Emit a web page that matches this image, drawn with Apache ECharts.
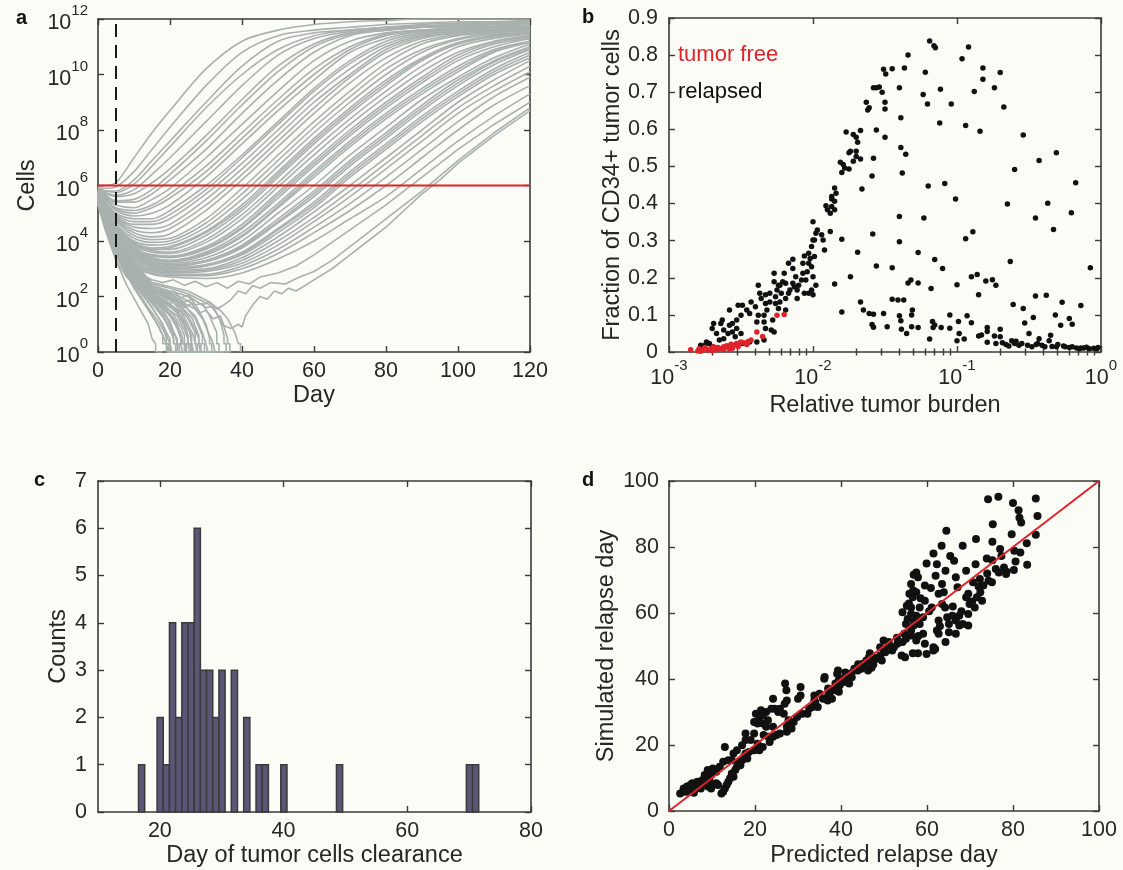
<!DOCTYPE html>
<html>
<head>
<meta charset="utf-8">
<script src="https://cdn.jsdelivr.net/npm/echarts@6/dist/echarts.min.js"></script>
<style>
  html, body { margin: 0; padding: 0; background: #fcfcf6; }
  #chart { width: 1123px; height: 870px; }
</style>
</head>
<body>
<div id="chart"></div>
<script>
// ---------- panel a: simulated trajectories (day, log10 cells) ----------
const trajDays = [0, 2, 5, 10, 15, 20, 30, 40, 50, 60, 70, 80, 90, 100, 110, 120];
const relapseCurves = [
  [5.95, 6.0, 6.1, 7.0, 7.9, 8.7, 10.2, 11.2, 11.6, 11.8, 11.9, 11.95, 12, 12, 12, 12],
  [5.9, 5.9, 5.95, 6.5, 7.3, 8.1, 9.6, 10.8, 11.4, 11.6, 11.7, 11.8, 11.85, 11.9, 11.9, 11.95],
  [5.9, 5.8, 5.8, 6.2, 6.9, 7.6, 9.0, 10.3, 11.2, 11.5, 11.6, 11.7, 11.8, 11.85, 11.9, 11.9],
  [5.9, 5.8, 5.75, 6.05, 6.7, 7.4, 8.8, 10.0, 10.9, 11.4, 11.6, 11.7, 11.75, 11.8, 11.85, 11.9],
  [5.9, 5.75, 5.65, 5.85, 6.4, 7.0, 8.3, 9.6, 10.7, 11.3, 11.55, 11.65, 11.75, 11.8, 11.85, 11.9],
  [5.85, 5.7, 5.6, 5.7, 6.1, 6.6, 7.8, 9.1, 10.3, 11.1, 11.5, 11.6, 11.7, 11.75, 11.8, 11.85],
  [5.85, 5.65, 5.45, 5.5, 5.85, 6.4, 7.6, 8.9, 10.1, 11.0, 11.45, 11.6, 11.7, 11.75, 11.8, 11.8],
  [5.85, 5.6, 5.4, 5.4, 5.7, 6.2, 7.3, 8.6, 9.8, 10.8, 11.4, 11.6, 11.7, 11.75, 11.8, 11.8],
  [5.8, 5.55, 5.3, 5.2, 5.5, 5.9, 7.0, 8.2, 9.4, 10.5, 11.2, 11.5, 11.6, 11.7, 11.75, 11.8],
  [5.8, 5.5, 5.2, 5.1, 5.3, 5.7, 6.7, 7.9, 9.1, 10.2, 11.0, 11.45, 11.6, 11.65, 11.7, 11.75],
  [5.8, 5.5, 5.15, 5.0, 5.2, 5.55, 6.5, 7.7, 8.9, 10.0, 10.9, 11.4, 11.55, 11.65, 11.7, 11.7],
  [5.8, 5.5, 5.1, 4.9, 5.0, 5.3, 6.3, 7.5, 8.7, 9.8, 10.8, 11.3, 11.55, 11.6, 11.7, 11.7],
  [5.8, 5.4, 5.0, 4.8, 4.8, 5.1, 6.0, 7.1, 8.3, 9.5, 10.5, 11.2, 11.5, 11.6, 11.65, 11.7],
  [5.75, 5.4, 4.95, 4.7, 4.7, 4.95, 5.85, 7.0, 8.2, 9.4, 10.4, 11.1, 11.45, 11.55, 11.6, 11.65],
  [5.75, 5.4, 4.9, 4.6, 4.6, 4.8, 5.7, 6.8, 8.0, 9.2, 10.2, 11.0, 11.4, 11.55, 11.6, 11.65],
  [5.75, 5.35, 4.85, 4.5, 4.45, 4.6, 5.5, 6.6, 7.8, 9.0, 10.0, 10.9, 11.35, 11.5, 11.6, 11.65],
  [5.7, 5.3, 4.8, 4.4, 4.3, 4.45, 5.3, 6.4, 7.6, 8.8, 9.9, 10.8, 11.3, 11.5, 11.55, 11.6],
  [5.7, 5.3, 4.75, 4.3, 4.15, 4.25, 5.1, 6.2, 7.4, 8.6, 9.7, 10.6, 11.2, 11.45, 11.55, 11.6],
  [5.7, 5.25, 4.7, 4.2, 4.05, 4.1, 4.8, 5.9, 7.1, 8.3, 9.4, 10.4, 11.1, 11.4, 11.5, 11.6],
  [5.7, 5.2, 4.6, 4.1, 3.95, 4.0, 4.65, 5.7, 6.9, 8.1, 9.2, 10.2, 10.9, 11.3, 11.5, 11.55],
  [5.65, 5.2, 4.55, 4.0, 3.85, 3.9, 4.5, 5.5, 6.7, 7.9, 9.0, 10.0, 10.8, 11.25, 11.45, 11.5],
  [5.65, 5.15, 4.5, 3.95, 3.75, 3.8, 4.35, 5.3, 6.5, 7.7, 8.8, 9.8, 10.6, 11.15, 11.4, 11.5],
  [5.65, 5.15, 4.5, 3.9, 3.7, 3.75, 4.3, 5.2, 6.4, 7.6, 8.7, 9.7, 10.55, 11.1, 11.4, 11.5],
  [5.65, 5.1, 4.45, 3.9, 3.7, 3.7, 4.2, 5.1, 6.3, 7.5, 8.6, 9.6, 10.5, 11.1, 11.35, 11.5],
  [5.6, 5.1, 4.4, 3.85, 3.65, 3.6, 4.05, 4.95, 6.1, 7.3, 8.4, 9.4, 10.3, 11.0, 11.3, 11.45],
  [5.6, 5.05, 4.35, 3.8, 3.6, 3.55, 3.95, 4.8, 5.95, 7.1, 8.2, 9.2, 10.1, 10.8, 11.2, 11.4],
  [5.6, 5.0, 4.3, 3.75, 3.5, 3.45, 3.8, 4.6, 5.75, 6.9, 8.0, 9.0, 9.9, 10.7, 11.15, 11.35],
  [5.6, 5.0, 4.3, 3.7, 3.5, 3.45, 3.75, 4.5, 5.65, 6.8, 7.9, 8.9, 9.8, 10.6, 11.1, 11.3],
  [5.55, 5.0, 4.25, 3.7, 3.45, 3.4, 3.7, 4.45, 5.55, 6.7, 7.8, 8.8, 9.7, 10.5, 11.0, 11.3],
  [5.55, 4.95, 4.2, 3.65, 3.4, 3.3, 3.6, 4.3, 5.35, 6.5, 7.6, 8.6, 9.5, 10.3, 10.9, 11.2],
  [5.55, 4.95, 4.2, 3.6, 3.35, 3.3, 3.55, 4.2, 5.25, 6.4, 7.5, 8.5, 9.4, 10.2, 10.85, 11.2],
  [5.55, 4.9, 4.15, 3.6, 3.35, 3.25, 3.5, 4.15, 5.2, 6.3, 7.4, 8.4, 9.3, 10.1, 10.8, 11.15],
  [5.5, 4.9, 4.1, 3.55, 3.3, 3.2, 3.4, 4.0, 5.0, 6.0, 7.1, 8.1, 9.1, 9.9, 10.6, 11.1],
  [5.5, 4.85, 4.05, 3.5, 3.25, 3.15, 3.3, 3.85, 4.8, 5.8, 6.9, 7.9, 8.9, 9.8, 10.5, 11.0],
  [5.5, 4.85, 4.0, 3.5, 3.2, 3.1, 3.3, 3.8, 4.7, 5.7, 6.8, 7.8, 8.8, 9.7, 10.45, 10.95],
  [5.5, 4.8, 4.0, 3.45, 3.2, 3.1, 3.25, 3.75, 4.65, 5.6, 6.7, 7.7, 8.7, 9.6, 10.35, 10.9],
  [5.45, 4.8, 3.95, 3.4, 3.15, 3.05, 3.15, 3.6, 4.45, 5.4, 6.5, 7.5, 8.5, 9.4, 10.2, 10.8],
  [5.45, 4.8, 3.9, 3.4, 3.1, 3.0, 3.1, 3.55, 4.4, 5.3, 6.4, 7.4, 8.4, 9.3, 10.1, 10.7],
  [5.45, 4.75, 3.9, 3.35, 3.1, 3.0, 3.1, 3.5, 4.3, 5.2, 6.3, 7.3, 8.3, 9.2, 10.0, 10.6],
  [5.4, 4.7, 3.85, 3.3, 3.05, 2.95, 3.0, 3.4, 4.15, 5.05, 6.0, 7.0, 8.0, 9.0, 9.8, 10.5],
  [5.4, 4.7, 3.8, 3.25, 3.0, 2.9, 2.95, 3.3, 4.0, 4.85, 5.8, 6.8, 7.8, 8.8, 9.6, 10.3],
  [5.4, 4.65, 3.75, 3.2, 2.95, 2.85, 2.9, 3.2, 3.85, 4.7, 5.6, 6.6, 7.6, 8.6, 9.4, 10.1],
  [5.35, 4.6, 3.7, 3.15, 2.9, 2.8, 2.8, 3.1, 3.7, 4.5, 5.35, 6.3, 7.3, 8.3, 9.2, 9.9],
  [5.35, 4.6, 3.65, 3.1, 2.85, 2.75, 2.75, 3.0, 3.55, 4.3, 5.1, 6.0, 7.0, 8.0, 8.9, 9.6],
  [5.3, 4.55, 3.6, 3.05, 2.8, 2.7, 2.65, 2.85, 3.35, 4.0, 4.8, 5.6, 6.6, 7.6, 8.5, 9.3]
];
// late, noisy relapses: [day, log10 cells]
const noisyCurves = [
  [[0,5.3],[2,4.4],[5,3.3],[8,2.7],[11,2.3],[14,2.0],[17,1.9],[20,1.75],[22,1.9],[24,1.6],[26,1.75],[28,1.4],[30,1.5],[32,1.2],[34,1.3],[35,0.95],[37,0.85],[39,1.0],[40,0.9],[41,1.3],[43,1.7],[45,2.0],[47,1.9],[49,2.2],[51,2.1],[53,2.3],[55,2.2],[57,2.35],[60,2.6],[65,3.0],[70,3.5],[75,4.0],[80,4.5],[85,5.1],[90,5.7],[95,6.2],[100,6.8],[110,7.8],[120,8.7]],
  [[0,5.35],[2,4.5],[5,3.5],[10,2.7],[13,2.4],[16,2.2],[19,2.1],[21,2.2],[23,1.95],[25,2.05],[27,1.85],[29,1.7],[31,1.8],[33,1.55],[35,1.7],[37,1.9],[39,2.2],[41,2.1],[43,2.4],[45,2.3],[48,2.5],[52,2.45],[56,2.7],[60,2.9],[65,3.3],[70,3.8],[80,4.8],[90,5.8],[100,6.9],[110,7.9],[120,8.8]],
  [[0,5.4],[2,4.6],[5,3.6],[10,2.9],[15,2.6],[18,2.5],[21,2.6],[24,2.4],[27,2.55],[30,2.35],[33,2.5],[36,2.3],[39,2.55],[42,2.45],[45,2.7],[50,2.85],[55,3.1],[60,3.5],[70,4.4],[80,5.3],[90,6.3],[100,7.3],[110,8.2],[120,9.0]]
];
// curves that go extinct (reach 10^0 and vanish)
const clearedCurves = [
  [[0,5.45],[2,4.5],[5,3.3],[8,2.4],[11,1.7],[14,1.0],[15,0.48],[16,0.3],[16,0],[18,0]],
  [[0,5.5],[2,4.6],[5,3.5],[10,2.3],[14,1.5],[17,0.9],[18,0.6],[18,0.3],[19,0.3],[19,0],[21,0]],
  [[0,5.55],[2,4.65],[5,3.6],[10,2.5],[14,1.8],[17,1.2],[18,0.95],[19,0.48],[19,0.3],[19.5,0.3],[19.5,0],[22,0]],
  [[0,5.5],[2,4.6],[5,3.55],[10,2.45],[15,1.6],[18,1.0],[19,0.7],[20,0.48],[20,0],[23,0]],
  [[0,5.6],[2,4.7],[5,3.7],[10,2.6],[15,1.85],[18,1.3],[20,0.78],[21,0.48],[21,0.3],[21.6,0.3],[21.6,0],[24,0]],
  [[0,5.55],[2,4.65],[5,3.6],[10,2.55],[15,1.75],[18,1.25],[20,0.9],[21,0.6],[21,0.3],[22,0.3],[22,0],[25,0]],
  [[0,5.6],[2,4.75],[5,3.7],[10,2.7],[15,1.9],[18,1.5],[20,1.1],[21,0.7],[22,0.48],[22,0.3],[22.6,0.3],[22.6,0],[26,0]],
  [[0,5.6],[2,4.7],[5,3.75],[10,2.75],[15,2.0],[18,1.6],[20,1.3],[22,0.85],[23,0.48],[23,0.3],[23.5,0.3],[23.5,0],[27,0]],
  [[0,5.65],[2,4.8],[5,3.8],[10,2.8],[15,2.0],[18,1.65],[20,1.4],[22,1.0],[23,0.6],[23,0.3],[24,0.3],[24,0],[27,0]],
  [[0,5.6],[2,4.75],[5,3.8],[10,2.85],[15,2.05],[18,1.75],[21,1.35],[23,0.9],[24,0.6],[24,0.3],[24.6,0.3],[24.6,0],[28,0]],
  [[0,5.65],[2,4.8],[5,3.85],[10,2.9],[15,2.1],[19,1.75],[22,1.4],[24,0.95],[25,0.6],[25,0.3],[25.6,0.3],[25.6,0],[29,0]],
  [[0,5.6],[2,4.8],[5,3.8],[10,2.8],[15,2.1],[19,1.8],[21,1.6],[23,1.3],[24.5,0.8],[25,0.48],[25,0.3],[26,0.3],[26,0],[29,0]],
  [[0,5.65],[2,4.85],[5,3.9],[10,2.95],[15,2.15],[19,1.85],[22,1.5],[24,1.1],[26,0.6],[26,0.3],[26.5,0.3],[26.5,0],[30,0]],
  [[0,5.7],[2,4.9],[5,3.95],[10,3.0],[15,2.2],[20,1.9],[23,1.5],[25,1.2],[27,0.7],[27,0.3],[27.6,0.3],[27.6,0],[31,0]],
  [[0,5.7],[2,4.9],[5,3.95],[10,3.0],[15,2.2],[20,1.95],[23,1.65],[26,1.25],[28,0.6],[28,0.3],[28.5,0.3],[28.5,0],[32,0]],
  [[0,5.7],[2,4.95],[5,4.0],[10,3.05],[15,2.25],[20,2.0],[24,1.7],[27,1.2],[29,0.6],[29,0.3],[29.6,0.3],[29.6,0],[33,0]],
  [[0,5.75],[2,4.95],[5,4.0],[10,3.1],[15,2.3],[20,2.1],[24,1.8],[26,1.9],[28,1.5],[30,1.0],[31,0.48],[31,0.3],[31.6,0.3],[31.6,0],[34,0]],
  [[0,5.75],[2,5.0],[5,4.05],[10,3.1],[15,2.35],[20,2.15],[24,1.9],[27,1.7],[29,1.75],[31,1.3],[33,0.7],[33,0.3],[33.6,0.3],[33.6,0],[36,0]],
  [[0,5.75],[2,5.0],[5,4.1],[10,3.15],[15,2.4],[20,2.2],[24,2.05],[27,1.85],[30,1.6],[32,1.65],[34,1.1],[35,0.6],[35,0.3],[35.6,0.3],[35.6,0],[37,0]],
  [[0,5.8],[2,5.05],[5,4.1],[10,3.2],[15,2.45],[20,2.3],[25,2.1],[28,1.9],[31,1.7],[33,1.4],[35,0.9],[36,0.48],[36,0.3],[36.6,0.3],[36.6,0]],
  [[0,5.8],[2,5.05],[5,4.15],[10,3.2],[15,2.5],[20,2.35],[25,2.2],[28,2.0],[31,1.8],[34,1.5],[36,1.2],[38,0.7],[39,0.3],[39.6,0.3],[39.6,0]],
  [[0,5.5],[2,4.55],[5,3.45],[10,2.35],[14,1.6],[17,1.05],[19,0.6],[20,0.3],[20.5,0.3],[20.5,0],[22,0]],
  [[0,5.6],[2,4.7],[5,3.65],[10,2.6],[15,1.8],[18,1.4],[20,1.0],[21.5,0.6],[22,0.3],[22.6,0.3],[22.6,0],[25,0]],
  [[0,5.55],[2,4.7],[5,3.7],[10,2.7],[15,1.95],[18,1.55],[21,1.2],[23,0.7],[23.5,0.48],[23.5,0.3],[24.3,0.3],[24.3,0],[26,0]],
  [[0,5.6],[2,4.75],[5,3.75],[10,2.75],[15,2.0],[19,1.6],[22,1.3],[24,0.8],[25,0.48],[25,0.3],[25.5,0.3],[25.5,0],[28,0]],
  [[0,5.65],[2,4.8],[5,3.8],[10,2.85],[15,2.1],[19,1.7],[22,1.45],[24,1.1],[25.5,0.7],[26,0.3],[26.4,0.3],[26.4,0],[29,0]],
  [[0,5.6],[2,4.8],[5,3.85],[10,2.9],[15,2.1],[19,1.8],[23,1.45],[25,1.0],[26.5,0.6],[27,0.3],[27.5,0.3],[27.5,0],[30,0]],
  [[0,5.7],[2,4.85],[5,3.9],[10,2.95],[15,2.2],[20,1.85],[23,1.6],[25,1.3],[27,0.8],[28,0.48],[28,0.3],[28.6,0.3],[28.6,0],[31,0]],
  [[0,5.7],[2,4.9],[5,3.95],[10,3.0],[15,2.25],[20,1.95],[24,1.65],[27,1.3],[29,0.7],[30,0.3],[30.5,0.3],[30.5,0],[33,0]],
  [[0,5.75],[2,4.95],[5,4.0],[10,3.05],[15,2.3],[20,2.05],[24,1.75],[27,1.55],[29,1.2],[31,0.6],[32,0.3],[32.5,0.3],[32.5,0],[35,0]],
  [[0,5.55],[2,4.6],[5,3.5],[10,2.4],[14,1.55],[16,1.1],[18,0.6],[19,0.3],[19.6,0.3],[19.6,0],[22,0]]
];
const treatmentDay = 5;
const detectionLogCells = 6;
const dayRange = [0, 120];
const logCellRange = [0, 12];

// ---------- panel b: relative tumor burden (log10) vs CD34+ fraction ----------
const burdenRelapsed = [
  [-1.19,0.838],[-1.16,0.825],[-1.15,0.82],[-0.92,0.822],[-0.965,0.79],[-1.34,0.80],[-1.365,0.765],[-1.51,0.762],[-1.45,0.763],[-1.495,0.749],
  [-1.22,0.754],[-0.82,0.765],[-0.82,0.735],[-0.70,0.753],[-0.88,0.702],[-0.74,0.712],[-1.58,0.712],[-1.56,0.712],[-1.54,0.714],[-1.52,0.70],
  [-1.40,0.712],[-1.235,0.694],[-1.115,0.708],[-1.63,0.673],[-1.61,0.658],[-1.62,0.652],[-1.50,0.673],[-1.50,0.655],[-1.205,0.668],[-1.04,0.668],
  [-1.39,0.631],[-1.12,0.617],[-0.675,0.66],[-0.94,0.61],[-0.84,0.595],[-0.54,0.585],[-1.56,0.598],[-1.50,0.579],[-1.77,0.593],[-1.72,0.586],
  [-1.67,0.597],[-1.70,0.579],[-1.69,0.565],[-1.74,0.541],[-1.75,0.537],[-1.70,0.541],[-1.70,0.527],[-1.67,0.52],[-1.72,0.514],[-1.81,0.511],
  [-1.79,0.505],[-1.78,0.496],[-1.75,0.493],[-1.80,0.484],[-1.58,0.522],[-1.59,0.474],[-1.39,0.551],[-1.356,0.533],[-1.38,0.482],[-1.01,0.412],
  [-1.20,0.447],[-0.31,0.537],[-0.43,0.516],[-0.60,0.492],[-0.176,0.456],[-1.085,0.454],[-1.85,0.442],[-1.87,0.419],[-1.84,0.428],[-1.87,0.412],
  [-1.85,0.406],[-1.87,0.392],[-1.91,0.394],[-1.90,0.383],[-1.85,0.383],[-1.88,0.374],[-1.66,0.439],[-1.40,0.365],[-1.23,0.361],[-0.65,0.399],
  [-0.37,0.401],[-0.455,0.361],[-0.206,0.375],[-0.33,0.33],[-0.89,0.324],[-0.94,0.305],[-1.585,0.318],[-1.40,0.297],[-1.80,0.304],[-2.00,0.351],
  [-1.97,0.329],[-1.98,0.32],[-2.00,0.302],[-2.01,0.284],[-1.99,0.302],[-1.94,0.316],[-1.93,0.302],[-1.92,0.275],[-1.88,0.325],[-2.03,0.266],
  [-2.02,0.252],[-1.99,0.257],[-2.06,0.259],[-2.07,0.239],[-2.03,0.239],[-2.01,0.23],[-2.04,0.216],[-2.00,0.203],[-2.05,0.194],[-2.08,0.194],
  [-2.07,0.212],[-2.10,0.18],[-2.13,0.176],[-2.12,0.203],[-2.14,0.225],[-2.14,0.25],[-2.17,0.239],[-2.20,0.212],[-2.19,0.185],[-2.21,0.189],
  [-2.23,0.18],[-2.25,0.167],[-2.22,0.158],[-2.16,0.167],[-2.14,0.185],[-2.11,0.167],[-2.06,0.158],[-2.11,0.144],[-2.03,0.158],[-2.01,0.167],
  [-1.98,0.18],[-2.00,0.154],[-2.27,0.212],[-2.24,0.18],[-2.26,0.149],[-2.30,0.158],[-2.33,0.154],[-2.37,0.158],[-2.36,0.144],[-2.33,0.131],
  [-2.30,0.135],[-2.26,0.131],[-2.23,0.135],[-2.19,0.144],[-2.17,0.158],[-2.27,0.189],[-2.38,0.18],[-2.19,0.113],[-2.24,0.117],[-2.32,0.113],
  [-2.34,0.099],[-2.28,0.086],[-2.40,0.122],[-2.43,0.135],[-2.44,0.104],[-2.39,0.081],[-2.38,0.099],[-2.34,0.081],[-2.29,0.059],[-2.27,0.054],
  [-2.33,0.063],[-2.49,0.126],[-2.46,0.113],[-2.50,0.099],[-2.52,0.126],[-2.53,0.086],[-2.56,0.077],[-2.58,0.072],[-2.56,0.054],[-2.53,0.063],
  [-2.50,0.05],[-2.54,0.041],[-2.59,0.05],[-2.62,0.059],[-2.63,0.086],[-2.58,0.113],[-2.62,0.036],[-2.65,0.032],[-2.67,0.05],[-2.70,0.063],
  [-2.69,0.077],[-2.64,0.077],[-2.72,0.023],[-2.75,0.018],[-2.70,0.014],[-2.74,0.027],[-2.78,0.018],[-2.49,0.023],[-2.44,0.027],[-2.39,0.027],
  [-2.34,0.032],[-1.85,0.183],[-1.74,0.203],[-1.80,0.108],[-1.65,0.113],[-1.69,0.269],[-1.56,0.232],[-1.45,0.227],[-1.67,0.135],[-1.61,0.104],
  [-1.58,0.102],[-1.59,0.074],[-1.58,0.067],[-1.51,0.104],[-1.485,0.068],[-1.45,0.142],[-1.41,0.14],[-1.37,0.14],[-1.40,0.098],[-1.39,0.084],
  [-1.386,0.061],[-1.35,0.05],[-1.315,0.068],[-1.27,0.066],[-1.31,0.113],[-1.315,0.10],[-1.34,0.186],[-1.32,0.194],[-1.27,0.186],[-1.18,0.171],
  [-1.27,0.268],[-1.155,0.249],[-1.10,0.225],[-1.19,0.035],[-1.17,0.082],[-1.155,0.073],[-1.11,0.066],[-1.166,0.066],[-1.05,0.10],[-1.05,0.064],
  [-1.00,0.181],[-1.00,0.03],[-0.99,0.082],[-0.985,0.05],[-0.95,0.035],[-0.93,0.098],[-0.90,0.079],[-0.90,0.203],[-0.86,0.209],[-0.85,0.154],
  [-0.85,0.043],[-0.83,0.046],[-0.79,0.066],[-0.79,0.055],[-0.79,0.026],[-0.74,0.043],[-0.70,0.061],[-0.70,0.041],[-0.685,0.025],[-0.80,0.191],
  [-0.754,0.195],[-0.73,0.18],[-0.63,0.244],[-0.61,0.128],[-0.455,0.151],[-0.38,0.153],[-0.27,0.134],[-0.14,0.125],[-0.317,0.10],[-0.22,0.09],
  [-0.20,0.075],[-0.074,0.227],[-0.66,0.02],[-0.64,0.016],[-0.60,0.023],[-0.57,0.018],[-0.54,0.117],[-0.53,0.078],[-0.50,0.05],[-0.55,0.023],
  [-0.51,0.018],[-0.48,0.014],[-0.47,0.093],[-0.44,0.023],[-0.43,0.036],[-0.41,0.018],[-0.36,0.03],[-0.35,0.045],[-0.31,0.014],[-0.28,0.072],
  [-0.25,0.014],[-0.20,0.014],[-0.17,0.011],[-0.15,0.009],[-0.12,0.011],[-0.08,0.009],[-0.39,0.014],[-0.26,0.016],[-0.14,0.011],[-0.05,0.01],
  [-0.34,0.015],[-0.59,0.029],[-0.73,0.023],[-0.62,0.03],[-0.45,0.02],[-0.30,0.02],[-0.22,0.012],[-0.10,0.013],[-0.03,0.009],[-0.02,0.012]
];
const burdenTumorFree = [
  [-2.85,0.006],[-2.80,0.003],[-2.79,0.009],[-2.77,0.005],[-2.75,0.012],[-2.73,0.005],[-2.71,0.009],[-2.69,0.014],[-2.67,0.006],[-2.66,0.012],
  [-2.64,0.009],[-2.62,0.014],[-2.60,0.017],[-2.59,0.014],[-2.57,0.021],[-2.55,0.018],[-2.53,0.023],[-2.51,0.024],[-2.50,0.027],[-2.48,0.025],
  [-2.43,0.032],[-2.39,0.054],[-2.35,0.042],[-2.25,0.099],[-2.20,0.101],[-2.78,0.002],[-2.70,0.004],[-2.62,0.006],[-2.56,0.01],[-2.52,0.015],
  [-2.46,0.02],[-2.45,0.028],[-2.68,0.01],[-2.58,0.008]
];
const burdenDecades = [-3, -2, -1, 0];
const fractionRange = [0, 0.9];

// ---------- panel c: histogram of clearance day ----------
const clearanceDays   = [17, 20, 21, 22, 23, 24, 25, 26, 27, 28, 29, 30, 32, 34, 36, 37, 40, 49, 70, 71];
const clearanceCounts = [ 1,  2,  1,  4,  2,  4,  4,  6,  3,  3,  2,  3,  3,  2,  1,  1,  1,  1,  1,  1];
const clearanceTicks = [20, 40, 60, 80];

// ---------- panel d: predicted vs simulated relapse day ----------
const relapseDays = [
  [74.2,94.5],[76.6,95.2],[80.0,93.3],[85.3,94.7],[81.3,91.1],[81.5,88.9],[81.9,87.4],[85.7,89.4],[75.3,86.9],[64.5,84.9],
  [71.4,82.4],[75.2,81.6],[79.7,83.9],[85.3,83.7],[83.2,81.1],[68.3,80.4],[63.4,80.4],[61.5,78.0],[65.4,77.3],[73.9,76.5],
  [77.0,79.4],[77.3,77.3],[80.3,78.9],[81.7,78.3],[59.9,75.0],[62.3,74.8],[64.3,72.8],[66.3,75.8],[69.1,72.8],[71.3,74.8],
  [75.2,76.0],[76.0,73.3],[77.9,73.8],[80.2,73.0],[80.6,75.6],[83.3,74.6],[76.7,72.3],[78.4,71.8],[57.5,72.3],[57.9,70.8],
  [62.0,71.3],[66.7,70.8],[70.7,69.3],[72.3,70.3],[74.3,69.8],[75.1,69.3],[73.1,68.3],[63.5,68.8],[59.5,68.3],[56.3,68.8],
  [60.9,67.6],[67.1,67.8],[72.4,66.3],[57.5,66.3],[55.9,65.8],[56.7,64.8],[62.7,65.8],[63.9,66.3],[69.6,65.8],[71.6,64.8],
  [72.8,63.7],[69.1,64.8],[55.3,62.2],[56.3,61.7],[58.3,61.7],[59.5,63.7],[61.1,61.7],[63.5,62.7],[64.2,61.7],[69.9,62.7],
  [71.1,61.7],[56.3,59.7],[57.5,59.2],[59.1,58.7],[64.7,58.7],[65.9,59.2],[67.5,59.2],[69.6,59.7],[55.5,58.2],[58.3,56.7],
  [62.7,57.7],[65.1,56.7],[66.7,57.7],[67.5,56.2],[68.3,56.7],[69.6,56.2],[55.1,56.7],[56.9,56.2],[56.3,54.7],[59.1,53.7],
  [62.3,54.7],[65.1,54.2],[66.7,53.7],[62.7,53.7],[54.7,53.7],[55.1,52.2],[56.3,53.2],[57.5,51.7],[59.5,50.7],[64.3,51.2],
  [61.5,48.6],[56.7,47.8],[57.9,47.8],[61.5,49.6],[54.3,51.2],[53.1,50.7],[52.3,49.6],[54.1,47.1],[54.9,46.6],[51.9,48.6],
  [51.1,50.2],[50.3,48.1],[49.9,49.1],[49.1,47.1],[49.5,45.6],[48.3,46.1],[47.5,46.6],[47.1,45.1],[47.5,44.4],[46.7,47.8],
  [47.1,43.4],[46.5,46.6],[45.9,45.6],[45.1,44.6],[44.7,43.1],[46.3,42.6],[43.9,42.6],[43.1,42.6],[42.0,41.6],[41.1,40.6],
  [40.3,40.1],[39.5,39.6],[39.7,38.1],[39.3,42.6],[40.7,39.1],[41.9,38.6],[38.7,38.6],[38.5,36.6],[39.5,36.1],[37.5,36.1],
  [37.0,35.0],[36.2,40.6],[35.8,34.0],[36.9,33.5],[37.9,34.0],[33.8,35.0],[34.6,31.5],[33.8,33.5],[32.6,31.0],[32.2,29.5],
  [30.6,35.0],[30.0,34.0],[30.6,37.6],[29.8,28.5],[29.0,27.0],[28.2,26.5],[27.4,25.5],[27.4,24.0],[27.8,27.5],[27.0,38.6],
  [27.3,36.6],[27.4,33.5],[26.9,32.5],[25.8,31.0],[25.4,30.0],[26.7,29.5],[24.6,31.0],[24.2,34.0],[23.8,31.0],[22.6,30.0],
  [21.4,30.5],[20.2,29.5],[21.0,28.0],[21.8,29.0],[20.6,26.5],[19.8,27.0],[21.8,26.5],[22.6,25.5],[24.2,25.5],[25.0,23.0],
  [25.8,23.5],[24.2,22.5],[23.4,20.9],[23.1,22.5],[19.8,23.5],[19.0,21.5],[20.6,20.4],[21.8,19.4],[21.0,18.4],[19.8,18.4],
  [18.6,17.9],[17.8,17.4],[17.4,16.4],[18.2,15.9],[17.0,15.4],[16.2,14.9],[15.8,13.4],[16.6,13.9],[15.4,12.4],[14.6,11.4],
  [15.0,10.4],[14.2,9.9],[13.8,8.9],[13.4,7.9],[13.0,6.8],[12.6,5.8],[12.2,5.3],[13.0,19.4],[17.0,19.9],[17.8,21.5],
  [17.8,23.5],[15.8,18.4],[15.0,17.4],[14.6,15.4],[13.8,15.4],[12.6,14.9],[11.8,13.4],[11.0,11.9],[10.2,12.9],[9.0,12.4],
  [9.8,10.9],[8.6,9.9],[9.4,9.4],[8.2,8.4],[11.0,8.4],[11.4,7.9],[10.2,7.9],[7.0,7.9],[6.2,6.8],[7.4,6.8],
  [6.6,8.9],[5.4,8.4],[5.0,7.9],[4.2,7.4],[3.4,6.8],[2.6,5.3],[3.8,5.8],[4.6,5.8],[5.4,6.8],[5.8,5.5],
  [7.8,9.4],[9.1,7.4],[9.8,6.8],[8.3,10.9],[33.4,31.5],[36.1,40.1],[39.1,41.6],[37.0,37.1],[43.1,43.1],[49.1,49.6],
  [49.9,51.7],[51.1,51.2],[54.3,60.2],[56.9,71.6],[59.9,47.6],[61.9,49.1],[53.0,52.5],[58.0,53.0],[57.0,57.5],[58.5,64.5],
  [55.8,62.9],[56.8,66.8],[60.5,60.5],[63.0,56.0],[66.0,62.0],[68.0,60.5],[70.5,63.5],[72.0,68.0],[74.0,72.0],[78.5,72.5],
  [45.5,44.0],[44.0,44.5],[42.5,40.5],[41.0,42.0],[35.0,35.5],[34.0,33.0],[31.0,29.5],[28.5,25.0],[23.0,27.5],[22.0,23.0]
];
const relapseRange = [0, 100];

// ---------- styling ----------
const ink = '#262626';
const frameColor = '#3a3a3a';
const curveGray = '#a9b1ae';
const lineRed = '#e0232b';
const font = 'Liberation Sans, Arial, Helvetica, sans-serif';
const tickFont = 21.5;
const nameFont = 23.5;

function axis(grid, position, range, extra) {
  return Object.assign({
    type: 'value', gridIndex: grid, position: position, min: range[0], max: range[1],
    axisLine: { show: true, onZero: false, lineStyle: { color: frameColor, width: 1.6 } },
    axisTick: { show: true, inside: true, length: 6, lineStyle: { color: frameColor, width: 1.4 } },
    axisLabel: { show: false },
    splitLine: { show: false }
  }, extra);
}
function plainLabel(margin) {
  return { show: true, color: ink, fontSize: tickFont, fontFamily: font, margin: margin };
}
function powerLabel(margin) {
  return {
    show: true, margin: margin,
    formatter: v => '{b|10}{s|' + v + '}',
    rich: {
      b: { fontSize: tickFont, color: ink, fontFamily: font, padding: [9, 0, 0, 0] },
      s: { fontSize: 15, color: ink, fontFamily: font, verticalAlign: 'top' }
    }
  };
}
function nameStyle(name, gap) {
  return { name: name, nameLocation: 'middle', nameGap: gap,
           nameTextStyle: { color: ink, fontSize: nameFont, fontFamily: font } };
}
const tickLine = { color: frameColor, width: 1.4 };
const minorBurdenTicks = [];
burdenDecades.slice(0, -1).forEach(e => {
  for (let k = 2; k <= 9; k++) minorBurdenTicks.push(e + Math.log10(k));
});

const xAxes = [
  // a
  axis(0, 'bottom', dayRange, Object.assign({ interval: 20, axisLabel: plainLabel(8) }, nameStyle('Day', 32))),
  axis(0, 'top', dayRange, { interval: 20 }),
  // b
  axis(1, 'bottom', [-3, 0], Object.assign({ interval: 1, axisLabel: powerLabel(6) }, nameStyle('Relative tumor burden', 42))),
  axis(1, 'top', [-3, 0], { interval: 1 }),
  axis(1, 'bottom', [-3, 0], { interval: 1, axisLine: { show: false },
    axisTick: { show: true, inside: true, length: 3.5, customValues: minorBurdenTicks, lineStyle: tickLine } }),
  axis(1, 'top', [-3, 0], { interval: 1, axisLine: { show: false },
    axisTick: { show: true, inside: true, length: 3.5, customValues: minorBurdenTicks, lineStyle: tickLine } }),
  // c
  axis(2, 'bottom', [10, 80], Object.assign({ interval: 10,
    axisTick: { show: true, inside: true, length: 6, customValues: clearanceTicks, lineStyle: tickLine },
    axisLabel: Object.assign(plainLabel(8), { customValues: clearanceTicks }) }, nameStyle('Day of tumor cells clearance', 32))),
  axis(2, 'top', [10, 80], { interval: 10,
    axisTick: { show: true, inside: true, length: 6, customValues: clearanceTicks, lineStyle: tickLine } }),
  // d
  axis(3, 'bottom', relapseRange, Object.assign({ interval: 20, axisLabel: plainLabel(8) }, nameStyle('Predicted relapse day', 33))),
  axis(3, 'top', relapseRange, { interval: 20 })
];
const yAxes = [
  axis(0, 'left', logCellRange, Object.assign({ interval: 2, axisLabel: powerLabel(10) }, nameStyle('Cells', 58))),
  axis(0, 'right', logCellRange, { interval: 2 }),
  axis(1, 'left', fractionRange, Object.assign({ interval: 0.1, axisLabel: plainLabel(11) }, nameStyle('Fraction of CD34+ tumor cells', 43))),
  axis(1, 'right', fractionRange, { interval: 0.1 }),
  axis(2, 'left', [0, 7], Object.assign({ interval: 1, axisLabel: plainLabel(11) }, nameStyle('Counts', 27))),
  axis(2, 'right', [0, 7], { interval: 1 }),
  axis(3, 'left', relapseRange, Object.assign({ interval: 20, axisLabel: plainLabel(10) }, nameStyle('Simulated relapse day', 50))),
  axis(3, 'right', relapseRange, { interval: 20 })
];

function trajLine(data, smooth) {
  return {
    type: 'line', xAxisIndex: 0, yAxisIndex: 0, data: data,
    smooth: smooth ? 0.3 : false,
    symbol: 'none', silent: true, z: 2,
    lineStyle: { color: curveGray, width: 1.6 }
  };
}

const series = [];
relapseCurves.forEach(vals => series.push(trajLine(trajDays.map((d, i) => [d, vals[i]]), true)));
noisyCurves.forEach(pts => series.push(trajLine(pts, false)));
clearedCurves.forEach(pts => series.push(trajLine(pts, false)));
series.push({
  type: 'line', xAxisIndex: 0, yAxisIndex: 0, symbol: 'none', silent: true, z: 5,
  data: [[dayRange[0], detectionLogCells], [dayRange[1], detectionLogCells]],
  lineStyle: { color: lineRed, width: 2 }
});
series.push({
  type: 'line', xAxisIndex: 0, yAxisIndex: 0, symbol: 'none', silent: true, z: 6,
  data: [[treatmentDay, logCellRange[0]], [treatmentDay, logCellRange[1]]],
  lineStyle: { color: '#1a1a1a', width: 2, type: [13, 8] }
});

// b
series.push({
  type: 'scatter', xAxisIndex: 2, yAxisIndex: 2, data: burdenRelapsed,
  symbolSize: 5.5, itemStyle: { color: '#111111', opacity: 1 }, silent: true, z: 3
});
series.push({
  type: 'scatter', xAxisIndex: 2, yAxisIndex: 2, data: burdenTumorFree,
  symbolSize: 5.5, itemStyle: { color: lineRed, opacity: 1 }, silent: true, z: 4
});

// c
series.push({
  type: 'custom', xAxisIndex: 6, yAxisIndex: 4, silent: true, z: 3,
  data: clearanceDays.map((d, i) => [d, clearanceCounts[i]]),
  renderItem: (params, api) => {
    const day = api.value(0), n = api.value(1);
    const p0 = api.coord([day - 0.45, n]);
    const p1 = api.coord([day + 0.55, 0]);
    return {
      type: 'rect',
      shape: { x: p0[0], y: p0[1], width: p1[0] - p0[0], height: p1[1] - p0[1] },
      style: { fill: '#5a5675', stroke: '#3a3a3d', lineWidth: 1.5 }
    };
  }
});

// d
series.push({
  type: 'scatter', xAxisIndex: 8, yAxisIndex: 6, data: relapseDays,
  symbolSize: 8, itemStyle: { color: '#111111', opacity: 1 }, silent: true, z: 3
});
series.push({
  type: 'line', xAxisIndex: 8, yAxisIndex: 6, symbol: 'none', silent: true, z: 5,
  data: [[relapseRange[0], relapseRange[0]], [relapseRange[1], relapseRange[1]]],
  lineStyle: { color: lineRed, width: 2 }
});

const chart = echarts.init(document.getElementById('chart'), null, { renderer: 'canvas' });
chart.setOption({
  backgroundColor: '#fcfcf6',
  animation: false,
  textStyle: { fontFamily: font, color: ink },
  grid: [
    { left: 98, top: 19, width: 432, height: 333 },
    { left: 669, top: 18, width: 432, height: 334 },
    { left: 98, top: 481, width: 433, height: 331 },
    { left: 669, top: 481, width: 430, height: 330 }
  ],
  xAxis: xAxes,
  yAxis: yAxes,
  series: series,
  graphic: [
    { type: 'text', left: 16, top: 8, style: { text: 'a', font: 'bold 20px ' + font, fill: '#111' } },
    { type: 'text', left: 582, top: 7, style: { text: 'b', font: 'bold 20px ' + font, fill: '#111' } },
    { type: 'text', left: 34, top: 470, style: { text: 'c', font: 'bold 20px ' + font, fill: '#111' } },
    { type: 'text', left: 582, top: 470, style: { text: 'd', font: 'bold 20px ' + font, fill: '#111' } },
    { type: 'text', left: 678, top: 44, style: { text: 'tumor free', font: '22px ' + font, fill: lineRed } },
    { type: 'text', left: 678, top: 81, style: { text: 'relapsed', font: '22px ' + font, fill: '#111' } }
  ]
});
</script>
</body>
</html>
